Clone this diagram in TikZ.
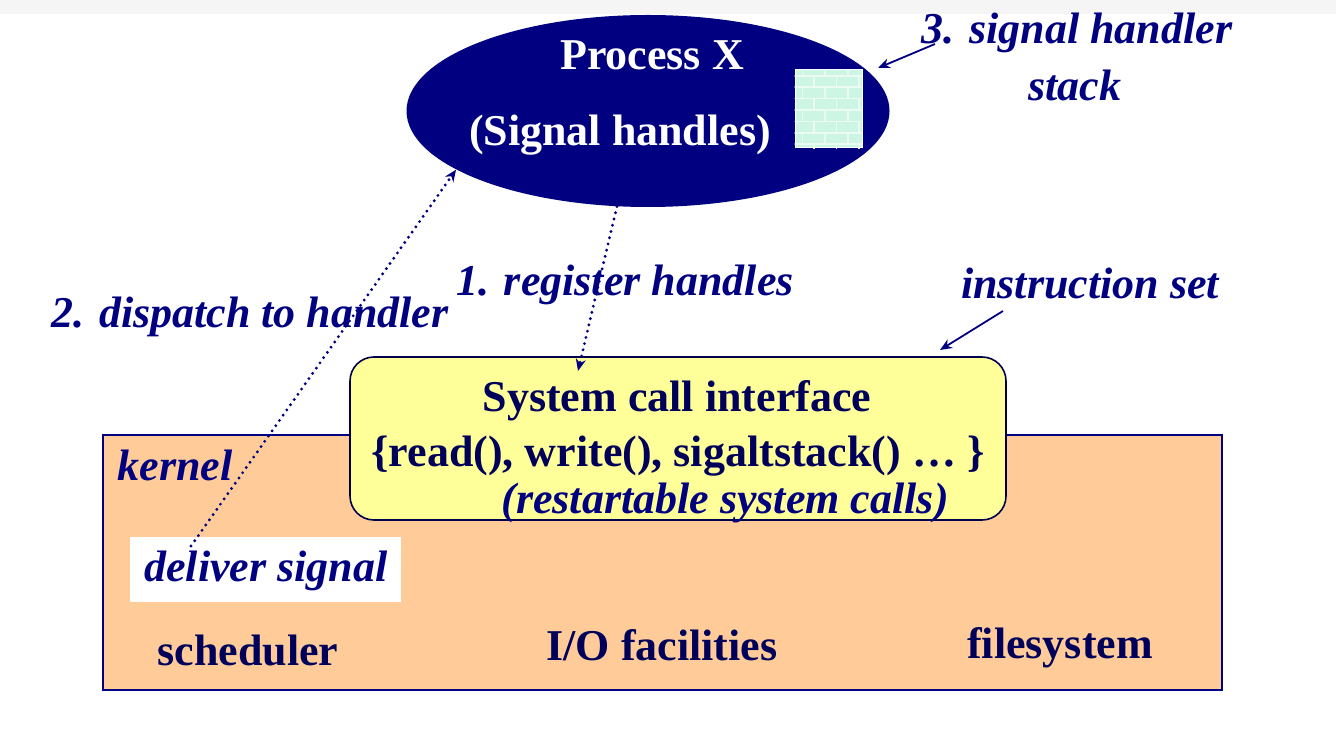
\documentclass[tikz,border=0pt]{standalone}
\usepackage{fontspec}
\setmainfont{Liberation Serif}
\usepackage{xcolor}
\usetikzlibrary{arrows.meta,patterns,shapes.geometric}
\definecolor{navy}{RGB}{0,0,128}
\definecolor{peach}{RGB}{255,204,153}
\definecolor{lemon}{RGB}{255,255,153}
\definecolor{mint}{RGB}{205,245,228}
\tikzset{
  lbl/.style={text=navy,font=\fontsize{22}{26}\selectfont\bfseries\itshape},
  txt/.style={text=navy!70!black,font=\fontsize{22}{26}\selectfont\bfseries},
  dotarrow/.style={navy,line width=1.6pt,line cap=round,dash pattern=on 0pt off 3.2pt,-{Stealth[length=6pt,width=5pt]}},
  ptr/.style={navy,line width=0.9pt,-{Stealth[length=6pt,width=5pt]}}
}
\begin{document}
\begin{tikzpicture}[x=0.5pt,y=-0.5pt]
    \useasboundingbox (0,0) rectangle (1336,753);
    \fill[black!4] (0,0) rectangle (1336,14);
    \node[draw=navy,fill=peach,line width=0.8pt,minimum width=559.5pt,minimum height=127.5pt,inner sep=0pt] (kernel) at (662.5,562.5) {};
    \node[draw=navy!60!black,fill=lemon,line width=0.8pt,rounded corners=12pt,minimum width=328pt,minimum height=81.5pt,inner sep=0pt] (sys) at (678,438.5) {};
    \node[fill=navy,ellipse,minimum width=241.5pt,minimum height=96pt,inner sep=0pt] (proc) at (648,111) {};
    \node[draw=white,line width=0.5pt,fill=mint,minimum width=33.5pt,minimum height=39pt,inner sep=0pt] (stack) at (828.5,109) {};
    \fill[pattern=bricks,pattern color=white!60!mint] (stack.south west) rectangle (stack.north east);
    \node[fill=white,minimum width=135.5pt,minimum height=32.5pt,inner sep=0pt] (deliver) at (265.5,569.5) {};
    \node[text=white,font=\fontsize{22}{26}\selectfont\bfseries] (pname) at (652,55) {Process X};
    \node[text=white,font=\fontsize{22}{26}\selectfont\bfseries] (phand) at (620,135) {(Signal handles)};
    \node[lbl] (stk1) at (1077,33) {3. signal handler};
    \node[lbl] (stk2) at (1075,85) {stack};
    \node[lbl] (reg) at (625,285) {1. register handles};
    \node[lbl] (disp) at (250,317) {2. dispatch to handler};
    \node[lbl] (iset) at (1090,283) {instruction set};
    \node[txt] (sci) at (677,401) {System call interface};
    \node[txt] (calls) at (678,456) {\{read(), write(), sigaltstack() … \}};
    \node[lbl] (rest) at (725,503) {(restartable system calls)};
    \node[lbl] (kname) at (175,465) {kernel};
    \node[lbl] (dsig) at (266,571) {deliver signal};
    \node[txt] (sched) at (248,650) {scheduler};
    \node[txt] (io) at (662,645) {I/O facilities};
    \node[txt] (fs) at (1060,648) {filesystem};
    \coordinate (stktail) at (935,44);
    \coordinate (stktip) at (878,68);
    \coordinate (isettail) at (1003,311);
    \coordinate (isettip) at (940,350);
    \coordinate (regtip) at (578,371);
    \coordinate (disptail) at (191,546);
    \draw[ptr] (stktail) to (stktip);
    \draw[ptr] (isettail) to (isettip);
    \draw[dotarrow] (proc.252) to (regtip);
    \draw[dotarrow] (disptail) to (proc.197);
\end{tikzpicture}
\end{document}
